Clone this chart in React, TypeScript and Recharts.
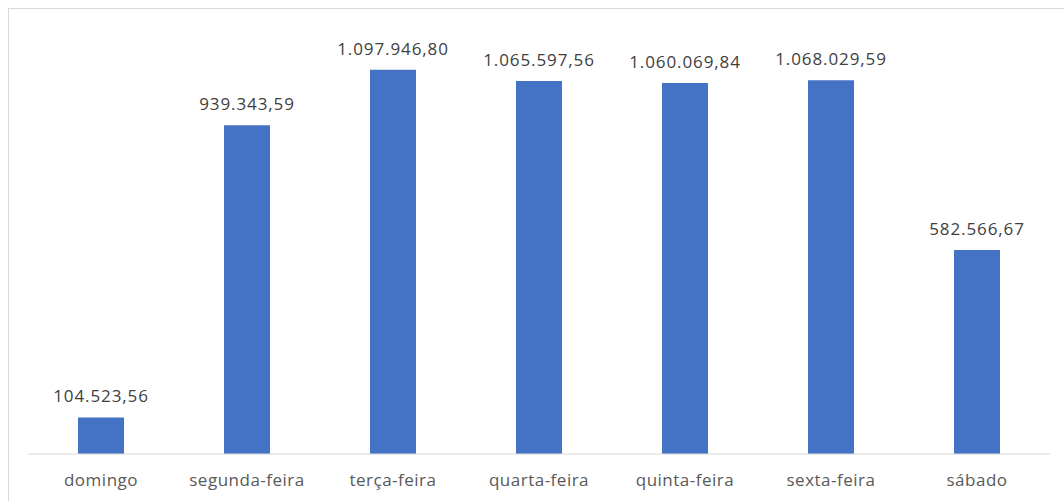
import React from 'react';
import { BarChart, Bar, XAxis, YAxis, LabelList } from 'recharts';

const days = ['domingo', 'segunda-feira', 'terça-feira', 'quarta-feira', 'quinta-feira', 'sexta-feira', 'sábado'];
const totals = [104523.56, 939343.59, 1097946.8, 1065597.56, 1060069.84, 1068029.59, 582566.67];

const formatBR = (v: number) => {
  const [int, dec] = v.toFixed(2).split('.');
  return int.replace(/\B(?=(\d{3})+(?!\d))/g, '.') + ',' + dec;
};

const chartData = days.map((day, i) => ({ day, total: totals[i] }));

const FONT = '"Open Sans", "Noto Sans", sans-serif';

const App: React.FC = () => {
  return (
    <>
      <style>{`body{margin:0;overflow:hidden;background:#fff}`}</style>
      <div
        style={{
          marginLeft: 8,
          marginTop: 8,
          width: 1056,
          height: 493,
          borderTop: '1px solid #d9d9d9',
          borderLeft: '1px solid #d9d9d9',
          background: '#fff',
        }}
      >
        <BarChart
          width={1055}
          height={492}
          data={chartData}
          margin={{ top: 25, right: 14, left: 19, bottom: 0 }}
          barSize={46}
        >
          <XAxis
            dataKey="day"
            height={47}
            axisLine={{ stroke: '#d9d9d9' }}
            tickLine={false}
            tickMargin={14}
            tick={{ fill: '#595959', fontSize: 17, fontFamily: FONT, letterSpacing: 0.5 }}
            interval={0}
          />
          <YAxis hide domain={[0, 1200000]} />
          <Bar dataKey="total" fill="#4472c4" isAnimationActive={false}>
            <LabelList
              dataKey="total"
              position="top"
              offset={15}
              formatter={(v: any) => formatBR(Number(v))}
              style={{ fill: '#404040', fontSize: 17, fontFamily: FONT, letterSpacing: 0.9 }}
            />
          </Bar>
        </BarChart>
      </div>
    </>
  );
};

export default App;
